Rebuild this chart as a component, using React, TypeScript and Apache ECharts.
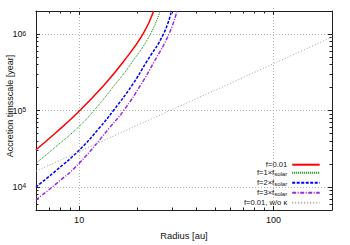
import React, { useEffect, useRef } from "react";
import * as echarts from "echarts";

// Radius [au] and accretion timescale [year]
const radiusF001 = [6, 7.61, 10, 13.34, 16.77, 21.3, 24.2];
const timeF001 = [30700, 51600, 98000, 211000, 425000, 1000000, 2000000];

const radiusSolar1 = [6, 7.61, 10, 11.92, 15.19, 18.7, 23.28, 26.1];
const timeSolar1 = [20500, 33800, 61900, 100000, 213000, 425000, 1000000, 2000000];

const radiusSolar2 = [6, 7.61, 10, 12.72, 15.02, 18.7, 22.13, 27.16, 29.86];
const timeSolar2 = [10000, 16400, 30200, 59300, 100000, 213000, 425000, 1000000, 2000000];

const radiusSolar3 = [6, 7.61, 10, 14.32, 16.96, 20.68, 24.21, 28.99, 31.87];
const timeSolar3 = [6800, 11000, 20400, 59300, 100000, 213000, 425000, 1000000, 2000000];

const radiusNoKappa = [6, 10, 20, 50, 100, 200];
const timeNoKappa = [16100, 29000, 64400, 184000, 409000, 911000];

const seriesNames = ["f=0.01", "f=1×fsolar", "f=2×fsolar", "f=3×fsolar", "f=0.01, w/o κ"];

const xMajorTicks = [10, 100];
const xMinorTicks = [7, 8, 9, 20, 30, 40, 50, 60, 70, 80, 90];
const yMajorTicks = [10000, 100000, 1000000];
const yMinorTicks = [
  6000, 7000, 8000, 9000,
  20000, 30000, 40000, 50000, 60000, 70000, 80000, 90000,
  200000, 300000, 400000, 500000, 600000, 700000, 800000, 900000,
];

const FONT = "'Liberation Sans', Arial, Helvetica, sans-serif";
const BORDER = "#222";
const GRID = "#b4b4b4";
const PLOT_W = 296;
const PLOT_H = 202.5;

const pairs = (xs: number[], ys: number[]) => xs.map((x, i) => [x, ys[i]]);

function xAxis(
  position: "top" | "bottom",
  ticks: number[],
  len: number,
  main: boolean,
  labels: boolean,
  tickColor = BORDER,
  tickType: any = "solid"
): any {
  return {
    type: "log",
    logBase: 10,
    min: 6,
    max: 200,
    position,
    axisLine: { show: main, lineStyle: { color: BORDER, width: 1 } },
    axisTick: {
      show: true,
      inside: true,
      length: len,
      customValues: ticks,
      lineStyle: { color: tickColor, width: 1, type: tickType },
    },
    axisLabel: labels
      ? { show: true, customValues: ticks, margin: 5, fontSize: 9, color: "#111", fontFamily: FONT }
      : { show: false },
    splitLine: { show: false },
    ...(labels
      ? {
          name: "Radius [au]",
          nameLocation: "middle",
          nameGap: 21,
          nameTextStyle: { fontSize: 9.4, color: "#111", fontFamily: FONT },
        }
      : {}),
  };
}

function yAxis(
  position: "left" | "right",
  ticks: number[],
  len: number,
  main: boolean,
  labels: boolean,
  tickColor = BORDER,
  tickType: any = "solid"
): any {
  return {
    type: "log",
    logBase: 10,
    min: 5000,
    max: 2000000,
    position,
    axisLine: { show: main, lineStyle: { color: BORDER, width: 1 } },
    axisTick: {
      show: true,
      inside: true,
      length: len,
      customValues: ticks,
      lineStyle: { color: tickColor, width: 1, type: tickType },
    },
    axisLabel: labels
      ? {
          show: true,
          customValues: ticks,
          margin: 10,
          formatter: (v: number) => `{b|10}{s|${Math.round(Math.log10(v))}}`,
          rich: {
            b: { fontSize: 9, lineHeight: 9, padding: [2, 0, 0, 0], verticalAlign: "bottom", color: "#111", fontFamily: FONT },
            s: { fontSize: 6.5, lineHeight: 6, verticalAlign: "top", color: "#111", fontFamily: FONT },
          },
        }
      : { show: false },
    splitLine: { show: false },
  };
}

const legendLabel: Record<string, string> = {
  "f=0.01": "{p|f=0.01}",
  "f=1×fsolar": "{b|f=1×f}{s|solar}",
  "f=2×fsolar": "{b|f=2×f}{s|solar}",
  "f=3×fsolar": "{b|f=3×f}{s|solar}",
  "f=0.01, w/o κ": "{p|f=0.01, w/o κ}",
};

export default function App() {
  const ref = useRef<HTMLDivElement>(null);
  useEffect(() => {
    if (!ref.current) return;
    const chart = echarts.init(ref.current, undefined, { renderer: "svg" });
    const lineBase = {
      type: "line",
      xAxisIndex: 0,
      yAxisIndex: 0,
      symbol: "none",
      showSymbol: false,
      smooth: 0.5,
      clip: true,
    };
    chart.setOption({
      animation: false,
      backgroundColor: "#ffffff",
      grid: { left: 36, top: 11, right: 18, bottom: 31.5, containLabel: false },
      xAxis: [
        xAxis("bottom", xMajorTicks, PLOT_H, false, false, GRID, [1, 2]),
        xAxis("bottom", xMajorTicks, 4, true, true),
        xAxis("top", xMajorTicks, 4, true, false),
        xAxis("bottom", xMinorTicks, 2.5, false, false),
        xAxis("top", xMinorTicks, 2.5, false, false),
      ],
      yAxis: [
        yAxis("left", yMajorTicks, PLOT_W, false, false, GRID, [1, 2]),
        yAxis("left", yMajorTicks, 4, true, true),
        yAxis("right", yMajorTicks, 4, true, false),
        yAxis("left", yMinorTicks, 2.5, false, false),
        yAxis("right", yMinorTicks, 2.5, false, false),
      ],
      legend: {
        show: true,
        orient: "vertical",
        align: "right",
        right: 29.3,
        top: 160.7,
        padding: 0,
        itemGap: 0,
        itemWidth: 27.5,
        itemHeight: 8,
        selectedMode: false,
        itemStyle: { opacity: 0 },
        data: seriesNames,
        formatter: (name: string) => legendLabel[name] ?? name,
        textStyle: {
          color: "#111",
          fontFamily: FONT,
          rich: {
            p: { fontSize: 7.6, lineHeight: 10, color: "#111", fontFamily: FONT },
            b: { fontSize: 7.6, lineHeight: 8, padding: [0, 0, 2, 0], verticalAlign: "top", color: "#111", fontFamily: FONT },
            s: { fontSize: 6, lineHeight: 6, verticalAlign: "bottom", color: "#111", fontFamily: FONT },
          },
        },
      },
      graphic: [
        {
          type: "text",
          x: 10,
          y: 106,
          rotation: Math.PI / 2,
          style: {
            text: "Accretion timsscale [year]",
            fontSize: 9,
            fontFamily: FONT,
            fill: "#111",
            align: "center",
            verticalAlign: "middle",
          },
        },
      ],
      series: [
        {
          ...lineBase,
          name: seriesNames[0],
          data: pairs(radiusF001, timeF001),
          lineStyle: { color: "#ff0000", width: 1.5, type: "solid" },
          itemStyle: { color: "#ff0000" },
        },
        {
          ...lineBase,
          name: seriesNames[1],
          data: pairs(radiusSolar1, timeSolar1),
          lineStyle: { color: "#008a00", width: 1, type: [1, 1] },
          itemStyle: { color: "#008a00" },
        },
        {
          ...lineBase,
          name: seriesNames[2],
          data: pairs(radiusSolar2, timeSolar2),
          lineStyle: { color: "#0000ff", width: 1.5, type: [3, 1.5] },
          itemStyle: { color: "#0000ff" },
        },
        {
          ...lineBase,
          name: seriesNames[3],
          data: pairs(radiusSolar3, timeSolar3),
          lineStyle: { color: "#9a2be2", width: 1.5, type: [4, 1.5, 1, 1.5] },
          itemStyle: { color: "#9a2be2" },
        },
        {
          ...lineBase,
          name: seriesNames[4],
          smooth: false,
          data: pairs(radiusNoKappa, timeNoKappa),
          lineStyle: { color: "#a0a0a0", width: 1, type: [1, 2] },
          itemStyle: { color: "#a0a0a0" },
        },
      ],
    });
    return () => chart.dispose();
  }, []);
  return (
    <div
      ref={ref}
      style={{ position: "fixed", left: 0, top: 0, width: 350, height: 245, background: "#fff" }}
    />
  );
}
